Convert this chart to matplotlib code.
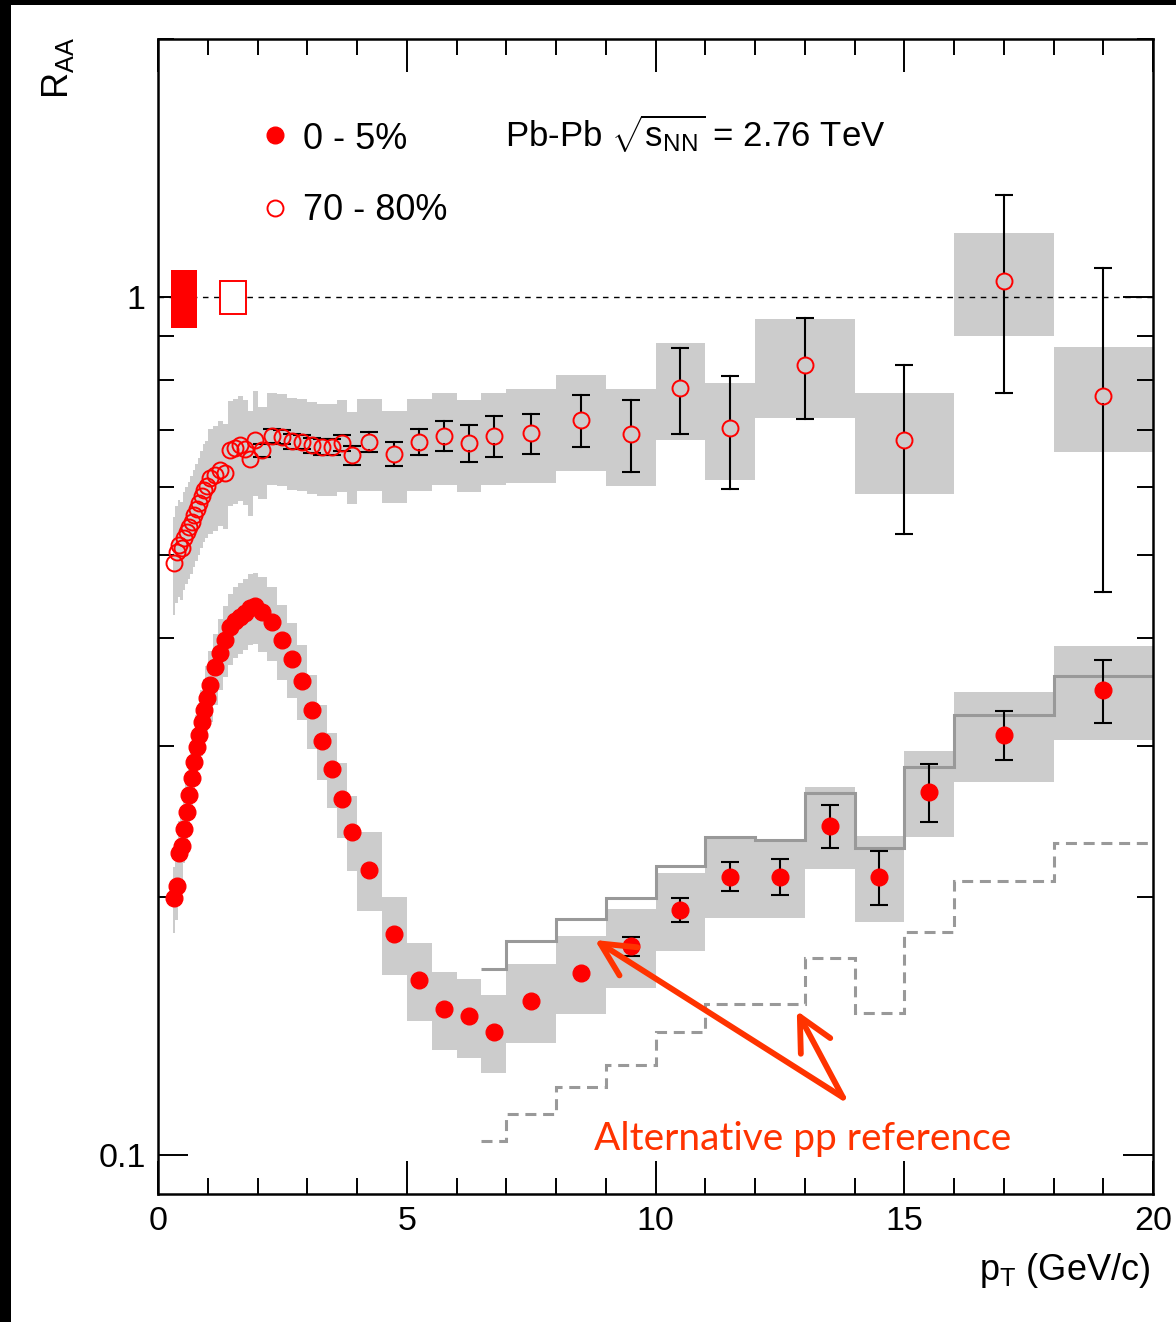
import numpy as np
import matplotlib.pyplot as plt
from matplotlib.patches import Rectangle

plt.rcParams['font.family'] = ['Liberation Sans', 'DejaVu Sans']
plt.rcParams['mathtext.fontset'] = 'custom'
plt.rcParams['mathtext.rm'] = 'Liberation Sans'
plt.rcParams['mathtext.it'] = 'Liberation Sans:italic'
plt.rcParams['mathtext.bf'] = 'Liberation Sans:bold'

# ---- data ----
# 0-5% central
cent_edges = [0.3, 0.35, 0.4, 0.45, 0.5, 0.55, 0.6, 0.65, 0.7, 0.75, 0.8, 0.85, 0.9, 0.95, 1.0,
              1.1, 1.2, 1.3, 1.4, 1.5, 1.6, 1.7, 1.8, 1.9, 2.0,
              2.2, 2.4, 2.6, 2.8, 3.0, 3.2, 3.4, 3.6, 3.8, 4.0,
              4.5, 5.0, 5.5, 6.0, 6.5, 7.0,
              8, 9, 10, 11, 12, 13, 14, 15, 16, 18, 20]
cent_pt = [0.325, 0.375, 0.425, 0.475, 0.525, 0.575, 0.625, 0.675, 0.725, 0.775, 0.825, 0.875, 0.925, 0.975,
           1.05, 1.15, 1.25, 1.35, 1.45, 1.55, 1.65, 1.75, 1.85, 1.95,
           2.1, 2.3, 2.5, 2.7, 2.9, 3.1, 3.3, 3.5, 3.7, 3.9,
           4.25, 4.75, 5.25, 5.75, 6.25, 6.75,
           7.5, 8.5, 9.5, 10.5, 11.5, 12.5, 13.5, 14.5, 15.5, 17, 19]
cent_raa = [0.199, 0.206, 0.225, 0.229, 0.240, 0.251, 0.263, 0.275, 0.287, 0.299, 0.309, 0.320, 0.330, 0.341,
            0.353, 0.370, 0.385, 0.398, 0.412, 0.419, 0.424, 0.428, 0.434, 0.436,
            0.429, 0.418, 0.398, 0.379, 0.357, 0.330, 0.304, 0.282, 0.260, 0.238,
            0.215, 0.181, 0.160, 0.148, 0.145, 0.139,
            0.151, 0.163, 0.175, 0.193, 0.211, 0.211, 0.242, 0.211, 0.265, 0.309, 0.348]
cent_stat = [0] * 42 + [0.0044, 0.006, 0.0082, 0.010, 0.014, 0.0153, 0.0206, 0.0204, 0.029]
cent_sys = [0.088] * 14 + [0.095] * 10 + [0.10] * 10 + [0.105] * 6 + \
           [0.105, 0.105, 0.105, 0.105, 0.105, 0.105, 0.11, 0.115, 0.115, 0.12, 0.125]

# 70-80% peripheral
peri_edges = [0.3, 0.35, 0.4, 0.45, 0.5, 0.55, 0.6, 0.65, 0.7, 0.75, 0.8, 0.85, 0.9, 0.95, 1.0,
              1.1, 1.2, 1.3, 1.4, 1.5, 1.6, 1.7, 1.8, 1.9, 2.0,
              2.2, 2.4, 2.6, 2.8, 3.0, 3.2, 3.4, 3.6, 3.8, 4.0,
              4.5, 5.0, 5.5, 6.0, 6.5, 7.0,
              8, 9, 10, 11, 12, 14, 16, 18, 20]
peri_pt = [0.325, 0.375, 0.425, 0.475, 0.525, 0.575, 0.625, 0.675, 0.725, 0.775, 0.825, 0.875, 0.925, 0.975,
           1.05, 1.15, 1.25, 1.35, 1.45, 1.55, 1.65, 1.75, 1.85, 1.95,
           2.1, 2.3, 2.5, 2.7, 2.9, 3.1, 3.3, 3.5, 3.7, 3.9,
           4.25, 4.75, 5.25, 5.75, 6.25, 6.75,
           7.5, 8.5, 9.5, 10.5, 11.5, 13, 15, 17, 19]
peri_raa = [0.490, 0.505, 0.514, 0.510, 0.524, 0.532, 0.539, 0.547, 0.557, 0.566, 0.575, 0.586, 0.596, 0.602,
            0.615, 0.620, 0.629, 0.624, 0.663, 0.667, 0.672, 0.665, 0.647, 0.681,
            0.663, 0.689, 0.687, 0.679, 0.678, 0.672, 0.669, 0.669, 0.676, 0.654,
            0.678, 0.656, 0.678, 0.689, 0.676, 0.689,
            0.694, 0.719, 0.692, 0.783, 0.703, 0.833, 0.681, 1.044, 0.767]
peri_stat = [0] * 24 + [0.012, 0.013, 0.013, 0.013, 0.013, 0.014, 0.014, 0.015, 0.015, 0.016] + \
            [0.019, 0.021, 0.024, 0.028, 0.033, 0.038] + \
            [0.037, 0.051, 0.066, 0.090, 0.106, 0.112, 0.152, 0.271, 0.314]
peri_sys = [0.13] * 14 + [0.14] * 10 + [0.123] * 10 + [0.123] * 6 + \
           [0.125, 0.128, 0.13, 0.13, 0.13, 0.133, 0.135, 0.137, 0.14]

# alternative pp reference (step lines)
alt_edges = [6.5, 7, 8, 9, 10, 11, 12, 13, 14, 15, 16, 18, 20]
alt_solid = [0.1647, 0.1773, 0.1883, 0.1995, 0.2174, 0.2344, 0.2328, 0.2642, 0.2277, 0.2835, 0.3258, 0.3616]
alt_dashed = [0.1038, 0.1115, 0.1199, 0.1272, 0.1391, 0.150, 0.150, 0.1695, 0.1464, 0.1819, 0.2087, 0.2308]

# normalisation uncertainties
cent_norm = [0.921, 1.075]
peri_norm = [0.955, 1.044]

red = '#ff0000'
gray_box = '#cccccc'
gray_line = '#999999'
annot = '#ff3300'

W, H = 1176, 1322
fig = plt.figure(figsize=(W / 100, H / 100), dpi=100)
ax = fig.add_axes([158 / W, 1 - 1194 / H, (1153 - 158) / W, (1194 - 39) / H])
ax.set_xlim(0, 20)
ax.set_yscale('log')
ax.set_ylim(0.09, 2.0)

# systematic boxes
for edges, vals, sys_ in [(cent_edges, cent_raa, cent_sys), (peri_edges, peri_raa, peri_sys)]:
    e = np.array(edges)
    v = np.array(vals)
    s = np.array(sys_)
    ax.bar(e[:-1], 2 * v * s, width=np.diff(e), bottom=v * (1 - s), align='edge',
           color=gray_box, linewidth=0, zorder=1)

# line at 1
ax.axhline(1, color='black', lw=1.0, ls=(0, (4, 4)), zorder=1.5)

# normalisation boxes
ax.bar(0.52, cent_norm[1] - cent_norm[0], width=0.52, bottom=cent_norm[0],
       color=red, linewidth=0, zorder=2)
ax.bar(1.51, peri_norm[1] - peri_norm[0], width=0.52, bottom=peri_norm[0],
       facecolor='white', edgecolor=red, linewidth=1.4, zorder=2)

# alternative reference
ax.stairs(alt_solid, alt_edges, baseline=None, color=gray_line, lw=2.2, zorder=2)
ax.stairs(alt_dashed, alt_edges, baseline=None, color=gray_line, lw=2.2,
          ls=(0, (3.6, 2.2)), zorder=2)

# central: stat errors + markers
cx = np.array(cent_pt)
cy = np.array(cent_raa)
ce = np.array(cent_stat)
m = ce > 0
ax.errorbar(cx[m], cy[m], yerr=ce[m], fmt='none', ecolor='black', elinewidth=1.5,
            capsize=6.8, capthick=1.5, zorder=3)
ax.plot(cx, cy, 'o', color=red, ms=12, mec=red, zorder=4)

# peripheral: stat errors drawn outside the open markers
gap = 10 ** (8.5 / 857.6)
for x, y, e in zip(peri_pt, peri_raa, peri_stat):
    if e == 0:
        continue
    top, bot = y + e, y - e
    if top > y * gap:
        ax.plot([x, x], [y * gap, top], color='black', lw=1.5, zorder=3)
    if bot < y / gap:
        ax.plot([x, x], [bot, y / gap], color='black', lw=1.5, zorder=3)
    ax.plot([x, x], [top, bot], ls='none', marker='_', ms=13.6, mew=1.5, color='black', zorder=3)
ax.plot(peri_pt, peri_raa, 'o', ms=11.5, mfc='none', mec=red, mew=1.4, zorder=4)

# legend
ax.plot(2.35, 1.545, 'o', color=red, ms=12, zorder=4)
ax.plot(2.35, 1.272, 'o', ms=11.5, mfc='none', mec=red, mew=1.4, zorder=4)
ax.text(2.915, 1.49, '0 - 5%', fontsize=26, ha='left', va='baseline')
ax.text(2.915, 1.229, '70 - 80%', fontsize=26, ha='left', va='baseline')
ax.text(6.975, 1.496, r'Pb-Pb $\sqrt{\mathrm{s}_{\mathrm{NN}}}$ = 2.76 TeV', fontsize=25,
        ha='left', va='baseline')

# annotation
tail = (13.77, 0.1166)
for tip in [(8.78, 0.178), (12.84, 0.1472)]:
    ax.annotate('', xy=tip, xytext=tail,
                arrowprops=dict(arrowstyle='->,head_length=1.2,head_width=0.6', color=annot,
                                lw=4.2, shrinkA=0, shrinkB=0, mutation_scale=20,
                                capstyle='round', joinstyle='round'), zorder=5)
ax.text(12.965, 0.1013, 'Alternative pp reference', color=annot, fontsize=28,
        family=['Lato', 'DejaVu Sans'], ha='center', va='baseline', zorder=5)

# axes style
ax.set_xticks([0, 5, 10, 15, 20])
ax.set_xticklabels(['0', '5', '10', '15', '20'])
ax.set_xticks(np.arange(0, 21, 1), minor=True)
ax.set_yticks([0.1, 1])
ax.set_yticklabels(['0.1', '1'])
ax.set_yticks([0.2, 0.3, 0.4, 0.5, 0.6, 0.7, 0.8, 0.9, 2.0], minor=True)
ax.yaxis.set_minor_formatter(plt.NullFormatter())
ax.tick_params(which='both', direction='in', top=True, right=True, width=1.4, labelsize=24.5)
ax.tick_params(axis='x', which='major', length=23.8, pad=9)
ax.tick_params(axis='x', which='minor', length=11.8)
ax.tick_params(axis='y', which='major', length=21.8, pad=9)
ax.tick_params(axis='y', which='minor', length=11.2)
for sp in ax.spines.values():
    sp.set_linewidth(1.8)

fig.text(58 / W, 1 - 68 / H, r'R$_{\mathrm{AA}}$', rotation=90, fontsize=26, ha='center', va='center')
fig.text(1150 / W, 1 - 1280 / H, r'p$_{\mathrm{T}}$ (GeV/c)', fontsize=26, ha='right', va='baseline')

# black frame edges
fig.add_artist(Rectangle((0, 1 - 5 / H), 1, 5 / H, transform=fig.transFigure, color='black', lw=0))
fig.add_artist(Rectangle((0, 0), 11 / W, 1, transform=fig.transFigure, color='black', lw=0))

fig.savefig('out.png', dpi=100)
